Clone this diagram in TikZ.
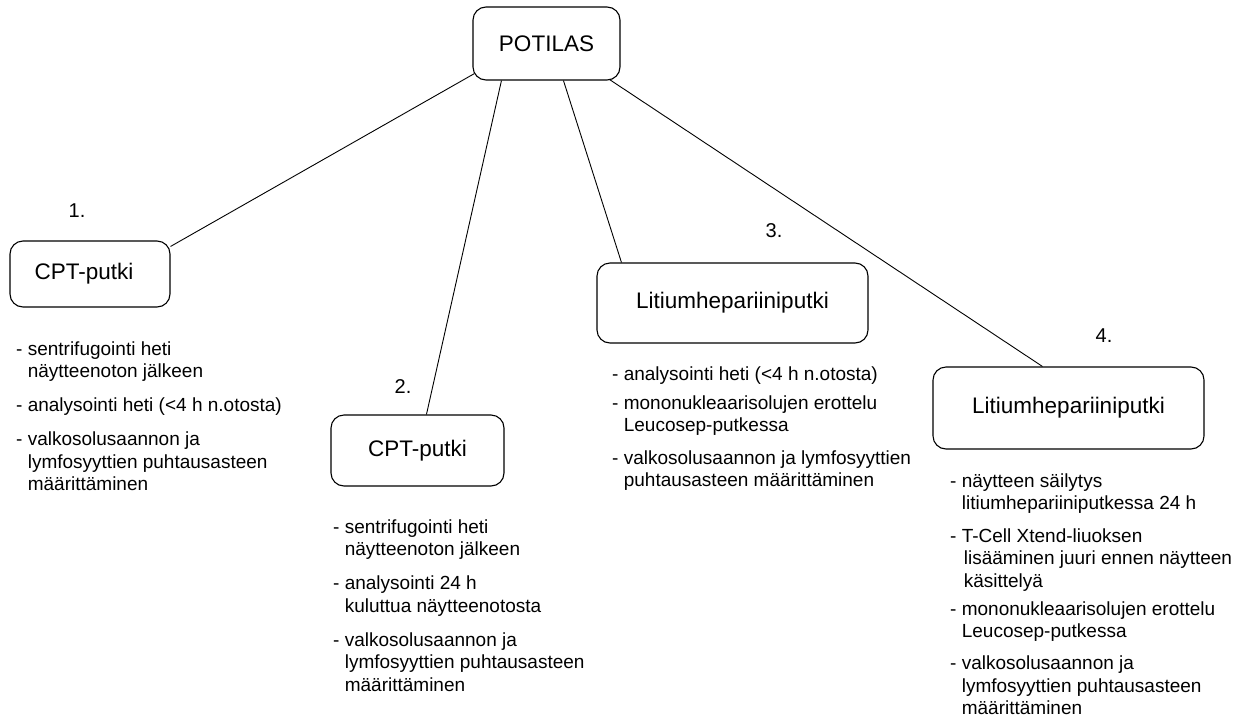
\documentclass[tikz,border=0pt]{standalone}
\usepackage{fontspec}
\setmainfont{Liberation Sans}
\usetikzlibrary{calc}
\newcommand{\lines}[1]{\begin{tabular}[t]{@{}l@{}}#1\end{tabular}}
\newcommand{\ind}{\phantom{- }}
\begin{document}
\begin{tikzpicture}[x=1pt,y=-1pt,
  box/.style={draw, rounded corners=13pt, line width=1.1pt, inner sep=0pt, font=\fontsize{22.5}{27}\selectfont},
  lst/.style={anchor=base west, inner sep=0pt, font=\fontsize{19}{22.5}\selectfont},
  num/.style={inner sep=0pt, font=\fontsize{20}{24}\selectfont},
  conn/.style={line width=0.9pt}]
\useasboundingbox (0,0) rectangle (1241,723);
\fill[white] (0,0) rectangle (1241,723);
\node[box, minimum width=147pt, minimum height=73pt] (pot) at (546.5,43.5) {POTILAS};
\node[box, minimum width=160pt, minimum height=66pt] (b1) at (90,274) {\hspace{-12pt}CPT-putki};
\node[box, minimum width=173pt, minimum height=71pt] (b2) at (417.5,450.5) {CPT-putki};
\node[box, minimum width=271pt, minimum height=80pt] (b3) at (732.5,303) {Litiumhepariiniputki};
\node[box, minimum width=271pt, minimum height=82pt] (b4) at (1068.5,408) {Litiumhepariiniputki};
\node[num] (n1) at (77,211) {1.};
\node[num] (n2) at (403,387) {2.};
\node[num] (n3) at (774,231) {3.};
\node[num] (n4) at (1104,336) {4.};
\draw[conn] ($(pot.south west)+(2,-7)$) -- ($(b1.north east)+(0,6)$);
\draw[conn] ($(pot.south west)+(29,0)$) -- ($(b2.north west)+(96,0)$);
\draw[conn] ($(pot.south west)+(91,0)$) -- ($(b3.north west)+(25,0)$);
\draw[conn] ($(pot.south east)+(-11,-1)$) -- ($(b4.north west)+(110,0)$);
\node[lst] (l1) at (16,355) {\lines{- sentrifugointi heti\\\ind näytteenoton jälkeen\\[11.5pt]- analysointi heti (<4 h n.otosta)\\[11.5pt]- valkosolusaannon ja\\\ind lymfosyyttien puhtausasteen\\\ind määrittäminen}};
\node[lst] (l2) at (333,533) {\lines{- sentrifugointi heti\\\ind näytteenoton jälkeen\\[11.5pt]- analysointi 24 h\\\ind kuluttua näytteenotosta\\[11.5pt]- valkosolusaannon ja\\\ind lymfosyyttien puhtausasteen\\\ind määrittäminen}};
\node[lst] (l3) at (612,380) {\lines{- analysointi heti (<4 h n.otosta)\\[6.5pt]- mononukleaarisolujen erottelu\\\ind Leucosep-putkessa\\[10pt]- valkosolusaannon ja lymfosyyttien\\\ind puhtausasteen määrittäminen}};
\node[lst] (l4) at (950,487) {\lines{- näytteen säilytys\\\ind litiumhepariiniputkessa 24 h\\[10pt]- T-Cell Xtend-liuoksen\\\ind\hspace{2pt}lisääminen juuri ennen näytteen\\\ind\hspace{2pt}käsittelyä\\[5.5pt]- mononukleaarisolujen erottelu\\\ind Leucosep-putkessa\\[9.5pt]- valkosolusaannon ja\\\ind lymfosyyttien puhtausasteen\\\ind määrittäminen}};
\end{tikzpicture}
\end{document}
